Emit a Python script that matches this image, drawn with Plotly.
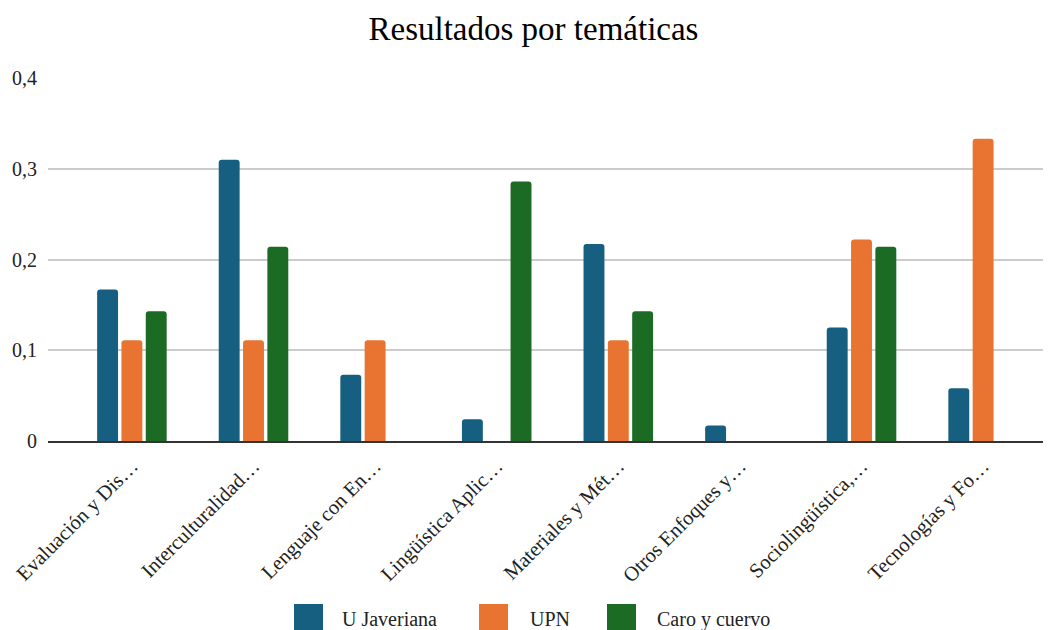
import plotly.graph_objects as go

categorias = [
    "Evaluación y Dis…",
    "Interculturalidad…",
    "Lenguaje con En…",
    "Lingüística Aplic…",
    "Materiales y Mét…",
    "Otros Enfoques y…",
    "Sociolingüística,…",
    "Tecnologías y Fo…",
]
u_javeriana = [0.167, 0.31, 0.073, 0.024, 0.217, 0.017, 0.125, 0.058]
upn = [0.111, 0.111, 0.111, 0, 0.111, 0, 0.222, 0.333]
caro_y_cuervo = [0.143, 0.214, 0, 0.286, 0.143, 0, 0.214, 0]

y_ticks = [0, 0.1, 0.2, 0.3, 0.4]
y_tick_labels = ["0", "0,1", "0,2", "0,3", "0,4"]

series = [
    ("U Javeriana", u_javeriana, "#175f80"),
    ("UPN", upn, "#e97431"),
    ("Caro y cuervo", caro_y_cuervo, "#1c6b25"),
]

font_family = "Liberation Serif, Times New Roman, serif"

# the page body adds an 8px offset, so margins are shifted by that amount
W, H = 1051, 630
L, R, T, B = 40, 9, 70, 197
plot_w = W - L - R
plot_h = H - T - B


def px_x(px):
    return (px - 8 - L) / plot_w


def px_y(py):
    return (H - B - (py - 8)) / plot_h


x_pos = list(range(len(categorias)))

fig = go.Figure()
for name, values, color in series:
    fig.add_trace(go.Bar(
        x=x_pos,
        y=values,
        name=name,
        showlegend=False,
        marker=dict(color=color, line=dict(width=0)),
    ))

# legend drawn by hand to get the large square swatches
legend_pos = [(294, 340), (479, 528), (607, 655)]
for (name, _, color), (box_x, text_x) in zip(series, legend_pos):
    fig.add_shape(type="rect", xref="paper", yref="paper",
                  x0=px_x(box_x), x1=px_x(box_x + 29),
                  y0=px_y(633), y1=px_y(604),
                  fillcolor=color, line=dict(width=0))
    fig.add_annotation(text=name, xref="paper", yref="paper",
                       x=px_x(text_x), y=px_y(619), xanchor="left", yanchor="middle",
                       showarrow=False,
                       font=dict(family=font_family, size=20, color="#222"))

fig.update_layout(
    title=dict(text="Resultados por temáticas", x=0.5, xanchor="center",
               y=0.968, yanchor="middle",
               font=dict(family=font_family, size=33, color="#000")),
    barmode="group",
    bargap=0.40,
    bargroupgap=0.14,
    barcornerradius=3,
    width=W,
    height=H,
    margin=dict(l=L, r=R, t=T, b=B),
    plot_bgcolor="white",
    paper_bgcolor="white",
    font=dict(family=font_family, size=20, color="#222"),
)

fig.update_xaxes(
    tickvals=x_pos,
    ticktext=categorias,
    range=[-0.69, 7.55],
    tickangle=-45,
    showgrid=False,
    showline=True,
    linecolor="#333",
    linewidth=2,
    ticks="",
    ticklabelstandoff=3,
    ticklabeloverflow="allow",
    automargin=False,
    tickfont=dict(family=font_family, size=20.5, color="#222"),
)
fig.update_yaxes(
    range=[0, 0.4],
    tickvals=y_ticks,
    ticktext=y_tick_labels,
    showgrid=True,
    gridcolor="#cccccc",
    gridwidth=2,
    zeroline=False,
    ticks="",
    ticklabelstandoff=10,
    automargin=False,
    tickfont=dict(family=font_family, size=20, color="#222"),
)

fig.write_html("out.html")
